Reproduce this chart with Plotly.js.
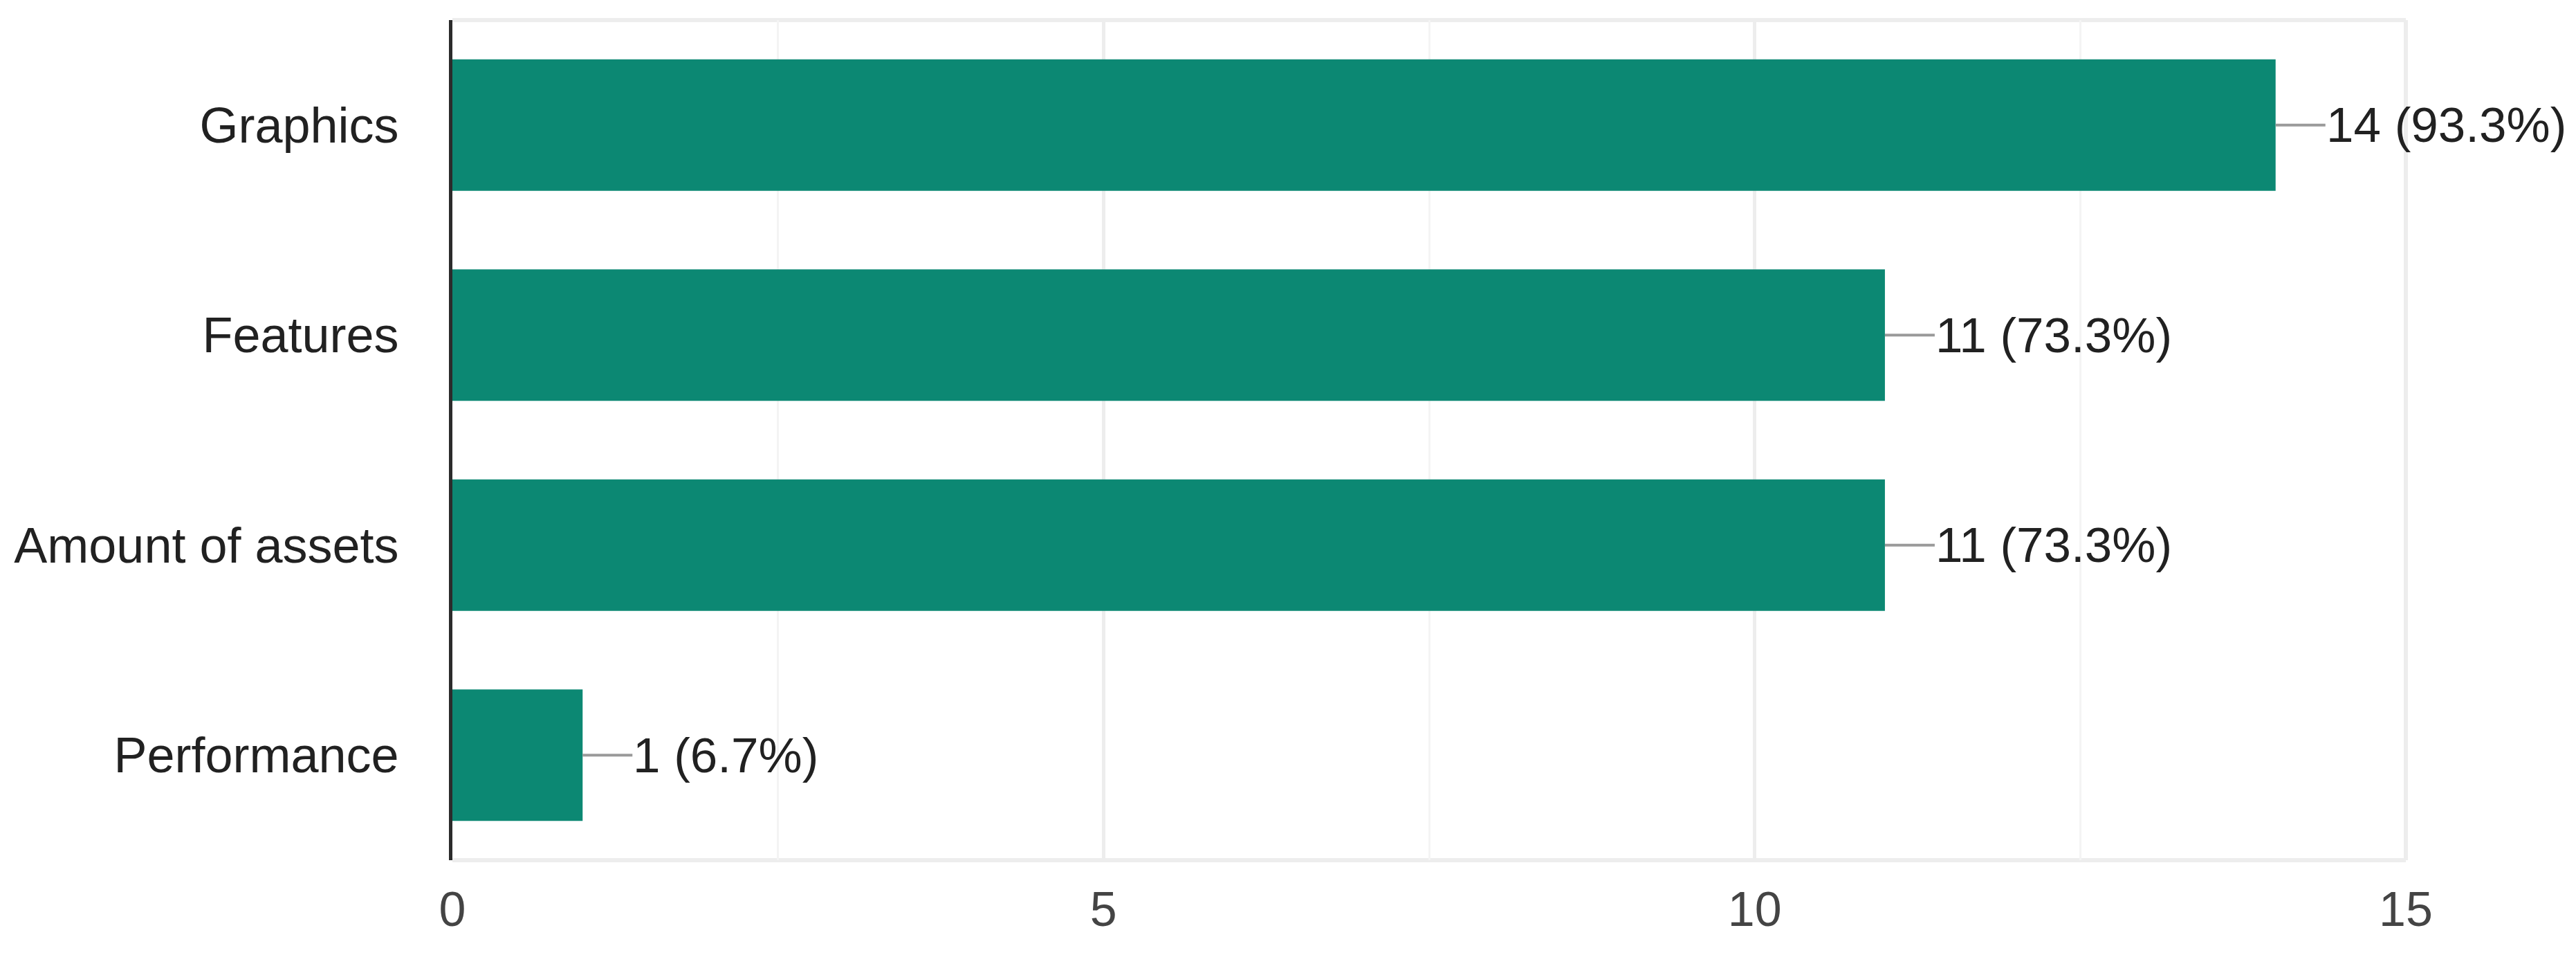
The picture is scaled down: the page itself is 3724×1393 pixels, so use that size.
<!DOCTYPE html>
<html>
<head>
<meta charset="utf-8">
<script src="https://cdn.plot.ly/plotly-3.0.1.min.js"></script>
<style>html,body{margin:0;padding:0;background:#fff;}#chart{width:3724px;height:1393px;}</style>
</head>
<body>
<div id="chart"></div>
<script>
const categories = ["Graphics", "Features", "Amount of assets", "Performance"];
const counts = [14, 11, 11, 1];
const percents = ["93.3%", "73.3%", "73.3%", "6.7%"];
const tickValues = [0, 5, 10, 15];
const tickLabels = ["0", "5", "10", "15"];

const barColor = "#0c8873";
const FONT = "Liberation Sans, Arial, Helvetica, sans-serif";

const trace = {
  type: "bar",
  orientation: "h",
  y: categories,
  x: counts,
  marker: { color: barColor, line: { width: 0 } },
  hoverinfo: "none"
};

const annotations = categories.map((c, i) => ({
  x: counts[i],
  y: c,
  xref: "x",
  yref: "y",
  text: counts[i] + " (" + percents[i] + ")",
  showarrow: true,
  arrowhead: 0,
  arrowwidth: 4,
  arrowcolor: "#9a9a9a",
  ax: 72,
  ay: 0,
  xanchor: "left",
  yanchor: "middle",
  borderpad: 0,
  standoff: 0,
  startstandoff: 0,
  font: { family: FONT, size: 71, color: "#212121" }
}));

const layout = {
  width: 3724,
  height: 1393,
  margin: { l: 654, r: 246, t: 29, b: 150, pad: 0 },
  paper_bgcolor: "#ffffff",
  plot_bgcolor: "#ffffff",
  showlegend: false,
  bargap: 0.374,
  xaxis: {
    range: [0, 15],
    tickvals: tickValues,
    ticktext: tickLabels,
    showgrid: true,
    gridcolor: "#ededed",
    gridwidth: 5,
    zeroline: false,
    showline: false,
    ticks: "",
    ticklabelstandoff: 24,
    tickfont: { family: FONT, size: 70, color: "#444444" },
    minor: { dtick: 2.5, tick0: 0, showgrid: true, gridcolor: "#f4f4f4", gridwidth: 3, ticks: "" },
    fixedrange: true
  },
  yaxis: {
    autorange: "reversed",
    showgrid: false,
    zeroline: false,
    showline: true,
    linecolor: "#2b2b2b",
    linewidth: 5,
    ticks: "",
    ticklabelstandoff: 58,
    tickfont: { family: FONT, size: 72, color: "#212121" },
    fixedrange: true
  },
  shapes: [
    { type: "line", xref: "paper", yref: "paper", x0: 0, x1: 1, y0: 1, y1: 1, line: { color: "#ededed", width: 6 }, layer: "below" },
    { type: "line", xref: "paper", yref: "paper", x0: 0, x1: 1, y0: 0, y1: 0, line: { color: "#ededed", width: 6 }, layer: "below" },
    { type: "line", xref: "paper", yref: "paper", x0: 1, x1: 1, y0: 0, y1: 1, line: { color: "#ededed", width: 6 }, layer: "below" }
  ],
  annotations: annotations
};

Plotly.newPlot("chart", [trace], layout, { displayModeBar: false, staticPlot: true });
</script>
</body>
</html>
